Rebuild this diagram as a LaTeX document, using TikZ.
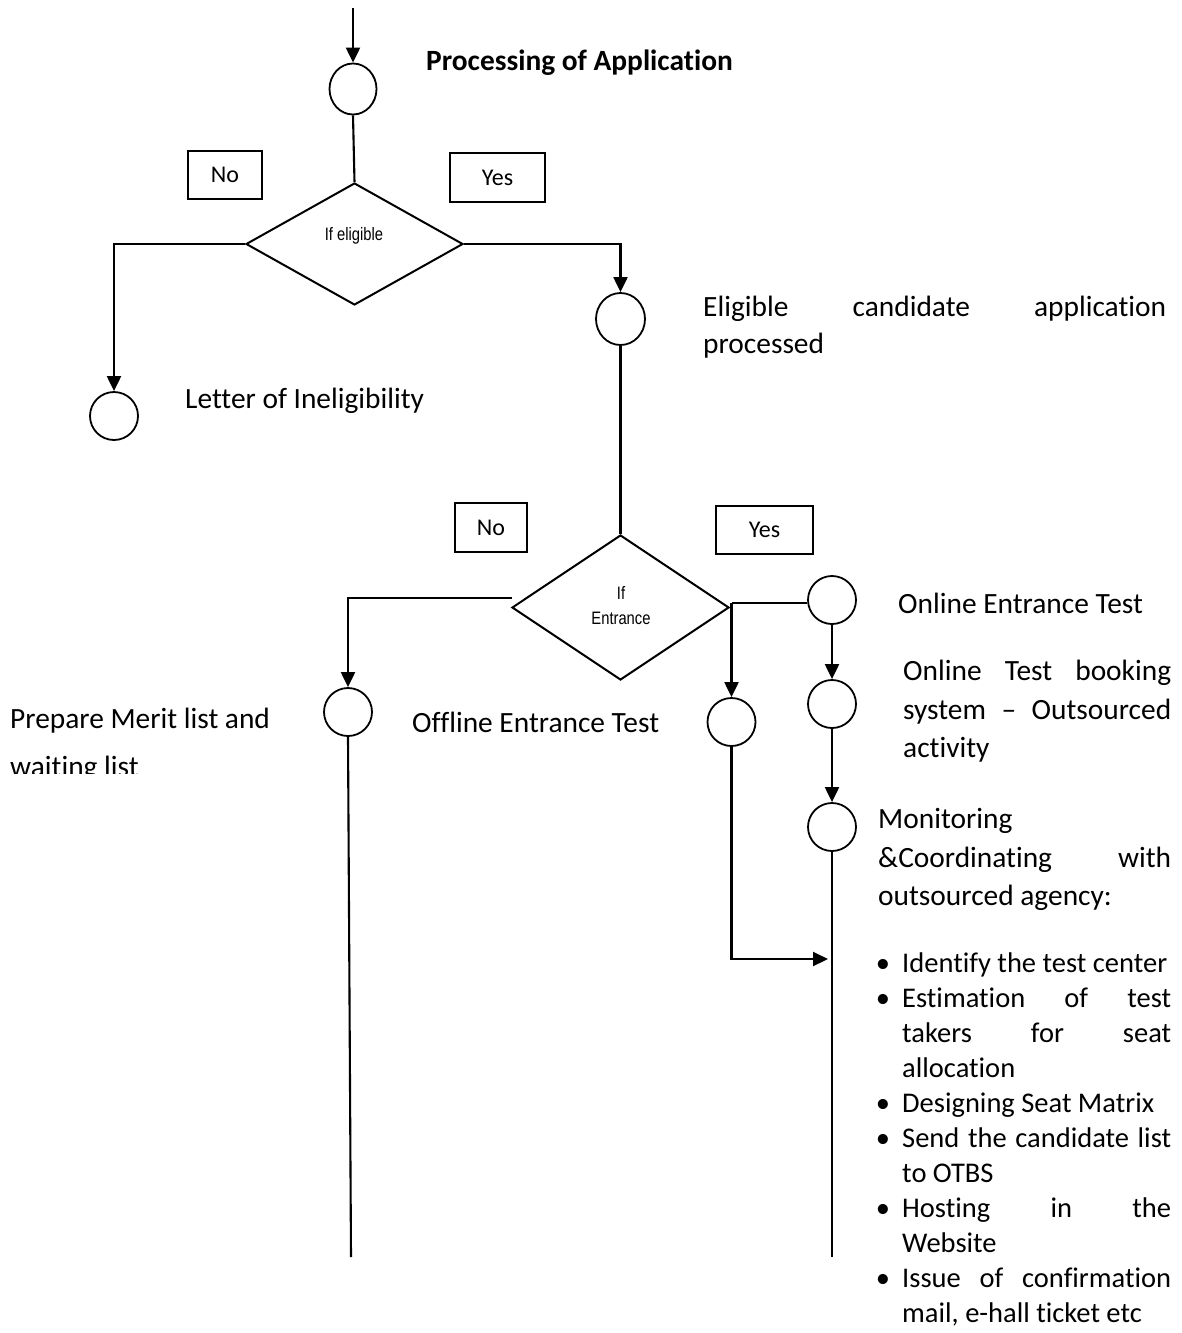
\documentclass[tikz,border=0pt]{standalone}
\usepackage{fontspec}
\setmainfont{Carlito}[Ligatures=CommonOff]
\newfontfamily\arialf{Liberation Sans}
\usetikzlibrary{arrows.meta,shapes.geometric}
\newcommand{\bodyfont}{\fontsize{29.4}{36}\selectfont}
\newcommand{\listfont}{\fontsize{28.5}{35}\selectfont}
\newcommand{\boxfont}{\fontsize{24}{29}\selectfont}
\newcommand{\dfont}{\arialf\fontsize{18}{22}\selectfont}
\tikzset{
 ln/.style={line width=2.1pt},
 arr/.style={line width=2.1pt,-{Triangle[length=15pt,width=14pt]}},
 circ/.style={draw, line width=1.8pt, ellipse, inner sep=0pt, minimum width=48pt, minimum height=48pt},
 dia/.style={draw, line width=2pt, diamond, inner sep=0pt},
 lbox/.style={draw, line width=1.8pt, inner sep=0pt, font=\boxfont},
 txt/.style={anchor=base west, inner sep=0pt, font=\bodyfont},
 ltxt/.style={anchor=base west, inner sep=0pt, font=\listfont},
 dtxt/.style={inner sep=0pt, font=\dfont},
 bul/.style={anchor=base, inner sep=0pt, font=\listfont},
}
\begin{document}
\begin{tikzpicture}[x=1pt,y=-1pt]
\fill[white] (0,0) rectangle (1182,1333);
\useasboundingbox (0,0) rectangle (1182,1333);

% nodes
\coordinate (in) at (353,8);
\node[circ, minimum width=47pt, minimum height=51pt] (start) at (353,89) {};
\node[txt, font=\bodyfont\bfseries] (title) at (426,70) {Processing of Application};
\node[lbox, minimum width=74pt, minimum height=48pt] (no1) at (225,175) {No};
\node[lbox, minimum width=95pt, minimum height=49pt] (yes1) at (497.5,177.5) {Yes};
\node[dia, minimum width=217pt, minimum height=122pt] (d1) at (354.5,244) {};
\node[dtxt] (d1t) at (354,236) {\scalebox{0.82}[1]{If eligible}};

\node[circ] (inel) at (114,416) {};
\node[txt] (inelt) at (185,408) {Letter of Ineligibility};

\node[circ, minimum width=49pt, minimum height=52pt] (elig) at (620.5,319) {};
\node[txt] (el1) at (703,316) {\hbox to 463pt{Eligible\hfill candidate\hfill application}};
\node[txt] (el2) at (703,353) {processed};

\node[lbox, minimum width=72pt, minimum height=49pt] (no2) at (491,527.5) {No};
\node[lbox, minimum width=97pt, minimum height=48pt] (yes2) at (764.5,530) {Yes};
\node[dia, minimum width=217pt, minimum height=145pt] (d2) at (620.5,607.5) {};
\node[dtxt] (d2a) at (621,593) {\scalebox{0.82}[1]{If}};
\node[dtxt] (d2b) at (621,618) {\scalebox{0.82}[1]{Entrance}};

\node[circ] (merit) at (348,712) {};
\node[circ] (offline) at (731.5,722) {};
\node[circ] (online) at (832,600) {};
\node[circ] (booking) at (832,704) {};
\node[circ] (monitor) at (832,827) {};

\begin{scope}
\clip (0,680) rectangle (320,773);
\node[txt] (pm1) at (10,728) {Prepare Merit list and};
\node[txt] (pm2) at (10,776) {waiting list};
\end{scope}
\node[txt] (offt) at (412,732) {Offline Entrance Test};
\node[txt] (onlt) at (898,613) {Online Entrance Test};

\node[txt] (bk1) at (903,680) {\hbox to 268pt{Online\hfill Test\hfill booking}};
\node[txt] (bk2) at (903,719) {\hbox to 268pt{system\hfill --\hfill Outsourced}};
\node[txt] (bk3) at (903,757) {activity};

\node[txt] (mo1) at (878,828) {Monitoring};
\node[txt] (mo2) at (878,867) {\hbox to 293pt{\&Coordinating\hfill with}};
\node[txt] (mo3) at (878,905) {outsourced agency:};

\node[bul] (u1) at (883,972) {•};
\node[ltxt] (l1) at (902,972) {Identify the test center};
\node[bul] (u2) at (883,1007) {•};
\node[ltxt] (l2) at (902,1007) {\hbox to 269pt{Estimation\hfill of\hfill test}};
\node[ltxt] (l3) at (902,1042) {\hbox to 269pt{takers\hfill for\hfill seat}};
\node[ltxt] (l4) at (902,1077) {allocation};
\node[bul] (u3) at (883,1112) {•};
\node[ltxt] (l5) at (902,1112) {Designing Seat Matrix};
\node[bul] (u4) at (883,1147) {•};
\node[ltxt] (l6) at (902,1147) {\hbox to 269pt{Send\hfill the\hfill candidate\hfill list}};
\node[ltxt] (l7) at (902,1182) {to OTBS};
\node[bul] (u5) at (883,1217) {•};
\node[ltxt] (l8) at (902,1217) {\hbox to 269pt{Hosting\hfill in\hfill the}};
\node[ltxt] (l9) at (902,1252) {Website};
\node[bul] (u6) at (883,1287) {•};
\node[ltxt] (l10) at (902,1287) {\hbox to 269pt{Issue\hfill of\hfill confirmation}};
\node[ltxt] (l11) at (902,1322) {mail, e-hall ticket etc};

\coordinate (d2l) at (512,598);
\coordinate (d2r) at (731.5,603);
\coordinate (oe) at (828,959);
\coordinate (mend) at (832,1257);
\coordinate (mrend) at (351,1257);

% connectors
\draw[arr] (in) -- (start.north);
\draw[ln] (start.south) -- (d1.north);
\draw[arr] (d1.west) -| (inel.north);
\draw[arr] (d1.east) -| (elig.north);
\draw[ln] (elig.south) -- (d2.north);
\draw[arr] (d2l) -| (merit.north);
\draw[ln] (d2r) -- (d2r -| online.west);
\draw[arr] (d2r) -- (offline.north);
\draw[arr] (online.south) -- (booking.north);
\draw[arr] (booking.south) -- (monitor.north);
\draw[arr] (offline.south) |- (oe);
\draw[ln] (monitor.south) -- (mend);
\draw[ln] (merit.south) -- (mrend);
\end{tikzpicture}
\end{document}
